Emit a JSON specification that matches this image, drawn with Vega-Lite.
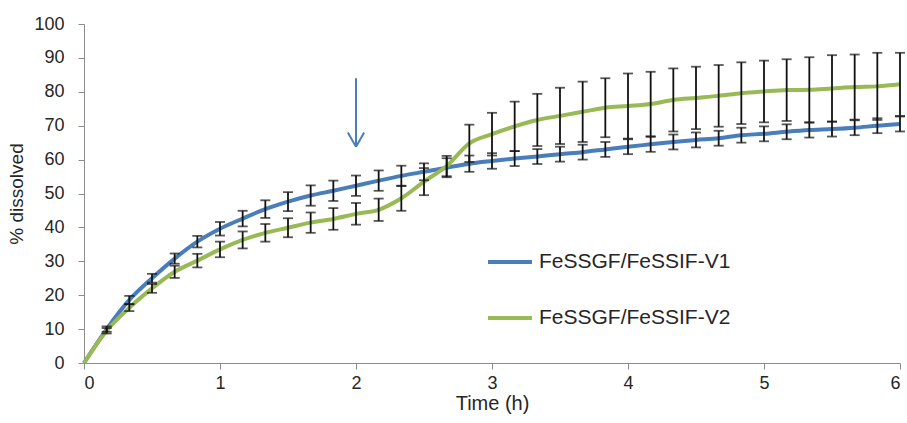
{
  "$schema": "https://vega.github.io/schema/vega-lite/v6.json",
  "autosize": {"type": "none"},
  "width": 816,
  "height": 339,
  "padding": {"left": 84, "top": 24, "right": 7, "bottom": 60},
  "background": "white",
  "config": {
    "view": {"stroke": null},
    "font": "Liberation Sans",
    "axis": {
      "grid": false,
      "domainColor": "#8c8c8c",
      "tickColor": "#8c8c8c",
      "labelColor": "#262626",
      "titleColor": "#262626",
      "labelFont": "Liberation Sans",
      "titleFont": "Liberation Sans",
      "titleFontWeight": "normal",
      "labelFontSize": 18,
      "titleFontSize": 18,
      "tickSize": 6,
      "labelOverlap": false
    },
    "axisX": {"labelPadding": 5, "titlePadding": 1, "titleFontSize": 20},
    "axisY": {"labelPadding": 14, "titlePadding": 7, "titleFontSize": 19}
  },
  "datasets": {
    "dis": [
      {"time": 0, "series": "FeSSGF/FeSSIF-V1", "mean": 0, "sd": 0},
      {"time": 0.1667, "series": "FeSSGF/FeSSIF-V1", "mean": 10, "sd": 0.8},
      {"time": 0.3333, "series": "FeSSGF/FeSSIF-V1", "mean": 18.6, "sd": 1.2},
      {"time": 0.5, "series": "FeSSGF/FeSSIF-V1", "mean": 25, "sd": 1.3},
      {"time": 0.6667, "series": "FeSSGF/FeSSIF-V1", "mean": 30.8, "sd": 1.5},
      {"time": 0.8333, "series": "FeSSGF/FeSSIF-V1", "mean": 35.8, "sd": 1.7},
      {"time": 1, "series": "FeSSGF/FeSSIF-V1", "mean": 39.6, "sd": 2.0},
      {"time": 1.1667, "series": "FeSSGF/FeSSIF-V1", "mean": 42.6, "sd": 2.3},
      {"time": 1.3333, "series": "FeSSGF/FeSSIF-V1", "mean": 45.4, "sd": 2.6},
      {"time": 1.5, "series": "FeSSGF/FeSSIF-V1", "mean": 47.6, "sd": 2.8},
      {"time": 1.6667, "series": "FeSSGF/FeSSIF-V1", "mean": 49.4, "sd": 3.0},
      {"time": 1.8333, "series": "FeSSGF/FeSSIF-V1", "mean": 50.8, "sd": 3.0},
      {"time": 2, "series": "FeSSGF/FeSSIF-V1", "mean": 52.3, "sd": 3.0},
      {"time": 2.1667, "series": "FeSSGF/FeSSIF-V1", "mean": 53.8, "sd": 3.0},
      {"time": 2.3333, "series": "FeSSGF/FeSSIF-V1", "mean": 55.2, "sd": 3.0},
      {"time": 2.5, "series": "FeSSGF/FeSSIF-V1", "mean": 56.4, "sd": 2.5},
      {"time": 2.6667, "series": "FeSSGF/FeSSIF-V1", "mean": 57.6, "sd": 2.8},
      {"time": 2.8333, "series": "FeSSGF/FeSSIF-V1", "mean": 58.8, "sd": 2.4},
      {"time": 3, "series": "FeSSGF/FeSSIF-V1", "mean": 59.6, "sd": 2.3},
      {"time": 3.1667, "series": "FeSSGF/FeSSIF-V1", "mean": 60.3, "sd": 2.2},
      {"time": 3.3333, "series": "FeSSGF/FeSSIF-V1", "mean": 60.9, "sd": 2.2},
      {"time": 3.5, "series": "FeSSGF/FeSSIF-V1", "mean": 61.6, "sd": 2.2},
      {"time": 3.6667, "series": "FeSSGF/FeSSIF-V1", "mean": 62.2, "sd": 2.2},
      {"time": 3.8333, "series": "FeSSGF/FeSSIF-V1", "mean": 63.0, "sd": 2.2},
      {"time": 4, "series": "FeSSGF/FeSSIF-V1", "mean": 63.8, "sd": 2.2},
      {"time": 4.1667, "series": "FeSSGF/FeSSIF-V1", "mean": 64.5, "sd": 2.2},
      {"time": 4.3333, "series": "FeSSGF/FeSSIF-V1", "mean": 65.2, "sd": 2.2},
      {"time": 4.5, "series": "FeSSGF/FeSSIF-V1", "mean": 65.8, "sd": 2.2},
      {"time": 4.6667, "series": "FeSSGF/FeSSIF-V1", "mean": 66.3, "sd": 2.2},
      {"time": 4.8333, "series": "FeSSGF/FeSSIF-V1", "mean": 67.2, "sd": 2.2},
      {"time": 5, "series": "FeSSGF/FeSSIF-V1", "mean": 67.6, "sd": 2.2},
      {"time": 5.1667, "series": "FeSSGF/FeSSIF-V1", "mean": 68.2, "sd": 2.2},
      {"time": 5.3333, "series": "FeSSGF/FeSSIF-V1", "mean": 68.7, "sd": 2.2},
      {"time": 5.5, "series": "FeSSGF/FeSSIF-V1", "mean": 69.0, "sd": 2.2},
      {"time": 5.6667, "series": "FeSSGF/FeSSIF-V1", "mean": 69.4, "sd": 2.2},
      {"time": 5.8333, "series": "FeSSGF/FeSSIF-V1", "mean": 70.0, "sd": 2.2},
      {"time": 6, "series": "FeSSGF/FeSSIF-V1", "mean": 70.5, "sd": 2.2},
      {"time": 0, "series": "FeSSGF/FeSSIF-V2", "mean": 0, "sd": 0},
      {"time": 0.1667, "series": "FeSSGF/FeSSIF-V2", "mean": 9.5, "sd": 0.8},
      {"time": 0.3333, "series": "FeSSGF/FeSSIF-V2", "mean": 16.3, "sd": 1.0},
      {"time": 0.5, "series": "FeSSGF/FeSSIF-V2", "mean": 22, "sd": 1.3},
      {"time": 0.6667, "series": "FeSSGF/FeSSIF-V2", "mean": 26.9, "sd": 1.8},
      {"time": 0.8333, "series": "FeSSGF/FeSSIF-V2", "mean": 30.2, "sd": 2.0},
      {"time": 1, "series": "FeSSGF/FeSSIF-V2", "mean": 33.5, "sd": 2.3},
      {"time": 1.1667, "series": "FeSSGF/FeSSIF-V2", "mean": 36.3, "sd": 2.5},
      {"time": 1.3333, "series": "FeSSGF/FeSSIF-V2", "mean": 38.4, "sd": 2.6},
      {"time": 1.5, "series": "FeSSGF/FeSSIF-V2", "mean": 39.9, "sd": 2.8},
      {"time": 1.6667, "series": "FeSSGF/FeSSIF-V2", "mean": 41.4, "sd": 3.0},
      {"time": 1.8333, "series": "FeSSGF/FeSSIF-V2", "mean": 42.5, "sd": 3.2},
      {"time": 2, "series": "FeSSGF/FeSSIF-V2", "mean": 44.0, "sd": 3.2},
      {"time": 2.1667, "series": "FeSSGF/FeSSIF-V2", "mean": 45.2, "sd": 3.3},
      {"time": 2.3333, "series": "FeSSGF/FeSSIF-V2", "mean": 48.6, "sd": 3.7},
      {"time": 2.5, "series": "FeSSGF/FeSSIF-V2", "mean": 53.5, "sd": 4.0},
      {"time": 2.6667, "series": "FeSSGF/FeSSIF-V2", "mean": 58.1, "sd": 3.0},
      {"time": 2.8333, "series": "FeSSGF/FeSSIF-V2", "mean": 64.8, "sd": 5.5},
      {"time": 3, "series": "FeSSGF/FeSSIF-V2", "mean": 67.5, "sd": 6.3},
      {"time": 3.1667, "series": "FeSSGF/FeSSIF-V2", "mean": 69.8, "sd": 7.3},
      {"time": 3.3333, "series": "FeSSGF/FeSSIF-V2", "mean": 71.7, "sd": 7.7},
      {"time": 3.5, "series": "FeSSGF/FeSSIF-V2", "mean": 72.9, "sd": 8.3},
      {"time": 3.6667, "series": "FeSSGF/FeSSIF-V2", "mean": 74.1, "sd": 8.9},
      {"time": 3.8333, "series": "FeSSGF/FeSSIF-V2", "mean": 75.3, "sd": 8.7},
      {"time": 4, "series": "FeSSGF/FeSSIF-V2", "mean": 75.8, "sd": 9.6},
      {"time": 4.1667, "series": "FeSSGF/FeSSIF-V2", "mean": 76.4, "sd": 9.5},
      {"time": 4.3333, "series": "FeSSGF/FeSSIF-V2", "mean": 77.6, "sd": 9.3},
      {"time": 4.5, "series": "FeSSGF/FeSSIF-V2", "mean": 78.2, "sd": 9.2},
      {"time": 4.6667, "series": "FeSSGF/FeSSIF-V2", "mean": 78.8, "sd": 9.1},
      {"time": 4.8333, "series": "FeSSGF/FeSSIF-V2", "mean": 79.6, "sd": 9.1},
      {"time": 5, "series": "FeSSGF/FeSSIF-V2", "mean": 80.1, "sd": 9.1},
      {"time": 5.1667, "series": "FeSSGF/FeSSIF-V2", "mean": 80.5, "sd": 9.1},
      {"time": 5.3333, "series": "FeSSGF/FeSSIF-V2", "mean": 80.6, "sd": 9.6},
      {"time": 5.5, "series": "FeSSGF/FeSSIF-V2", "mean": 81.0, "sd": 9.8},
      {"time": 5.6667, "series": "FeSSGF/FeSSIF-V2", "mean": 81.4, "sd": 9.6},
      {"time": 5.8333, "series": "FeSSGF/FeSSIF-V2", "mean": 81.6, "sd": 9.9},
      {"time": 6, "series": "FeSSGF/FeSSIF-V2", "mean": 82.2, "sd": 9.3}
    ],
    "arrow": [
      {"x": 2, "y": 84, "x2": 2, "y2": 63.8},
      {"x": 1.94, "y": 68, "x2": 2, "y2": 63.8},
      {"x": 2.06, "y": 68, "x2": 2, "y2": 63.8}
    ]
  },
  "layer": [
    {
      "data": {"name": "dis"},
      "mark": {"type": "line", "strokeWidth": 4, "interpolate": "monotone"},
      "encoding": {
        "x": {
          "field": "time", "type": "quantitative", "title": "Time (h)",
          "scale": {"domain": [0, 6], "nice": false},
          "axis": {"values": [0, 1, 2, 3, 4, 5, 6], "format": "d"}
        },
        "y": {
          "field": "mean", "type": "quantitative", "title": "% dissolved",
          "scale": {"domain": [0, 100], "nice": false},
          "axis": {"values": [0, 10, 20, 30, 40, 50, 60, 70, 80, 90, 100], "format": "d"}
        },
        "color": {
          "field": "series", "type": "nominal",
          "scale": {"domain": ["FeSSGF/FeSSIF-V1", "FeSSGF/FeSSIF-V2"], "range": ["#4A7EBB", "#98B954"]},
          "legend": {
            "title": null, "orient": "none", "legendX": 402, "legendY": 214,
            "symbolType": "stroke", "symbolSize": 1936, "symbolStrokeWidth": 4,
            "labelFontSize": 21, "labelColor": "#262626", "labelFont": "Liberation Sans",
            "labelOffset": 5, "rowPadding": 22, "labelLimit": 400
          }
        }
      }
    },
    {
      "data": {"name": "dis"},
      "transform": [{"filter": "datum.sd > 0"}],
      "mark": {"type": "errorbar", "color": "#111111", "thickness": 1.8, "ticks": {"size": 10, "thickness": 1.8}},
      "encoding": {
        "x": {"field": "time", "type": "quantitative", "title": "Time (h)",
              "axis": {"values": [0, 1, 2, 3, 4, 5, 6], "format": "d"}},
        "y": {"field": "mean", "type": "quantitative", "title": "% dissolved",
              "axis": {"values": [0, 10, 20, 30, 40, 50, 60, 70, 80, 90, 100], "format": "d"}},
        "yError": {"field": "sd"}
      }
    },
    {
      "data": {"name": "arrow"},
      "mark": {"type": "rule", "color": "#4A7EBB", "strokeWidth": 2},
      "encoding": {
        "x": {"field": "x", "type": "quantitative", "title": "Time (h)",
              "axis": {"values": [0, 1, 2, 3, 4, 5, 6], "format": "d"}},
        "y": {"field": "y", "type": "quantitative", "title": "% dissolved",
              "axis": {"values": [0, 10, 20, 30, 40, 50, 60, 70, 80, 90, 100], "format": "d"}},
        "x2": {"field": "x2"},
        "y2": {"field": "y2"}
      }
    }
  ]
}
